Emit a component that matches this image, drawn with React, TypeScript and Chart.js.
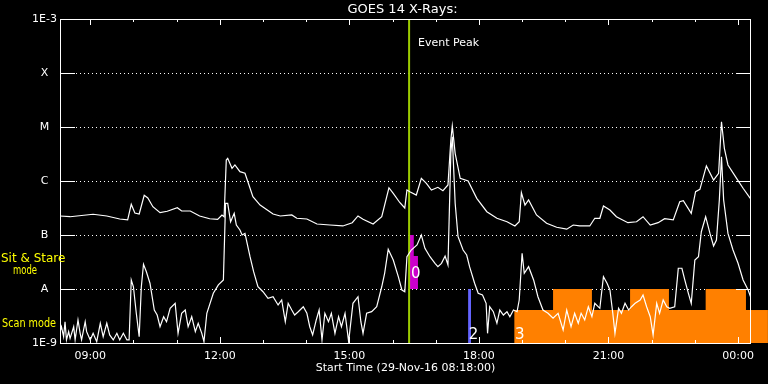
import React, { useEffect, useRef } from 'react';
import { Chart, registerables } from 'chart.js';

Chart.register(...registerables);

const FONT = 'DejaVu Sans';

// x axis: minutes after start time 29-Nov-16 08:18:00 (16 h span)
const xMin = 0;
const xMax = 960;
const xLabelTimes = [42, 222, 402, 582, 762, 942];
const xLabels = ['09:00', '12:00', '15:00', '18:00', '21:00', '00:00'];
const hourTicks = [42, 102, 162, 222, 282, 342, 402, 462, 522, 582, 642, 702, 762, 822, 882, 942];

// y axis: flux (W/m^2), log
const yTickValues = [1e-9, 1e-8, 1e-7, 1e-6, 1e-5, 1e-4, 1e-3];
const yTickLabels = ['1E-9', 'A', 'B', 'C', 'M', 'X', '1E-3'];
const gridValues = [1e-8, 1e-7, 1e-6, 1e-5, 1e-4];

const titleText = 'GOES 14 X-Rays:';
const xTitleText = 'Start Time (29-Nov-16 08:18:00)';
const eventPeakText = 'Event Peak';
const eventPeakTime = 485;

// long channel (1-8 A)
const longTimes = [
  0, 14, 46, 65, 83, 94, 99, 104, 110, 117,
  122, 129, 139, 149, 163, 169, 181, 194, 208, 219,
  225, 228, 231, 233, 239, 243, 250, 257, 261, 268,
  278, 288, 296, 306, 322, 329, 343, 357, 375, 393,
  406, 414, 421, 435, 447, 457, 463, 472, 479, 482,
  486, 495, 502, 509, 516, 525, 532, 539, 543, 545,
  549, 556, 567, 579, 593, 607, 621, 632, 638, 641,
  646, 651, 662, 676, 690, 704, 713, 722, 736, 743,
  750, 755, 764, 773, 789, 801, 810, 820, 831, 840,
  852, 861, 866, 877, 883, 889, 898, 908, 915, 919,
  923, 928, 940, 949, 959,
];
const longFlux = [
  2.25e-7, 2.18e-7, 2.42e-7, 2.25e-7, 1.98e-7, 1.9e-7, 3.7e-7, 2.55e-7, 2.45e-7, 5.43e-7,
  4.84e-7, 3.34e-7, 2.59e-7, 2.75e-7, 3.2e-7, 2.78e-7, 2.78e-7, 2.25e-7, 2.0e-7, 1.95e-7,
  2.35e-7, 2.18e-7, 2.45e-6, 2.63e-6, 1.72e-6, 1.98e-6, 1.49e-6, 1.39e-6, 9.7e-7, 5.12e-7,
  3.59e-7, 2.9e-7, 2.45e-7, 2.25e-7, 2.35e-7, 2.04e-7, 1.98e-7, 1.6e-7, 1.53e-7, 1.47e-7,
  1.69e-7, 2.25e-7, 1.95e-7, 1.6e-7, 2.18e-7, 7.5e-7, 5.92e-7, 4.0e-7, 3.16e-7, 6.81e-7,
  6.34e-7, 5.5e-7, 1.12e-6, 9.06e-7, 6.81e-7, 7.64e-7, 6.61e-7, 8.43e-7, 5.74e-6, 1.04e-5,
  3.26e-6, 1.12e-6, 1.0e-6, 4.78e-7, 2.7e-7, 2.04e-7, 1.76e-7, 1.47e-7, 1.76e-7, 6.07e-7,
  3.59e-7, 4.45e-7, 2.35e-7, 1.65e-7, 1.39e-7, 1.28e-7, 1.53e-7, 1.47e-7, 1.47e-7, 2.04e-7,
  2.04e-7, 3.44e-7, 2.9e-7, 2.18e-7, 1.69e-7, 1.76e-7, 2.18e-7, 1.53e-7, 1.69e-7, 2.0e-7,
  1.9e-7, 4.14e-7, 4.32e-7, 2.52e-7, 6.34e-7, 7.02e-7, 1.9e-6, 1.04e-6, 1.39e-6, 1.25e-5,
  4.03e-6, 1.98e-6, 1.12e-6, 7.33e-7, 4.78e-7,
];

// short channel (0.5-4 A)
const shortTimes = [
  0, 2, 5, 7, 9, 12, 14, 19, 21, 25,
  28, 30, 35, 37, 42, 46, 51, 56, 60, 65,
  69, 74, 79, 83, 88, 93, 96, 99, 102, 106,
  110, 113, 116, 120, 125, 131, 135, 139, 144, 148,
  153, 160, 164, 169, 174, 178, 183, 188, 192, 197,
  200, 204, 213, 220, 227, 230, 233, 237, 242, 245,
  250, 253, 257, 264, 269, 275, 282, 289, 296, 303,
  308, 313, 317, 322, 326, 331, 338, 343, 347, 351,
  356, 360, 364, 368, 373, 377, 382, 387, 391, 396,
  401, 407, 414, 418, 421, 426, 433, 440, 447, 451,
  456, 463, 470, 475, 479, 482, 488, 496, 502, 507,
  514, 521, 525, 530, 535, 539, 543, 545, 549, 553,
  560, 565, 569, 576, 581, 587, 592, 594, 597, 602,
  607, 611, 616, 621, 625, 630, 635, 638, 642, 645,
  651, 658, 664, 671, 678, 685, 692, 699, 704, 710,
  715, 720, 724, 729, 734, 739, 743, 750, 755, 760,
  764, 768, 771, 776, 780, 785, 790, 794, 799, 806,
  810, 815, 820, 824, 829, 833, 838, 843, 847, 854,
  859, 864, 868, 873, 877, 882, 887, 891, 897, 903,
  908, 912, 916, 919, 922, 928, 935, 942, 949, 956,
  960,
];
const shortFlux = [
  1.62e-9, 2.0e-9, 1.31e-9, 2.48e-9, 1.14e-9, 1.62e-9, 1.22e-9, 2.0e-9, 1.14e-9, 2.67e-9,
  1.51e-9, 1.14e-9, 2.48e-9, 1.62e-9, 1.14e-9, 1.51e-9, 1.06e-9, 2.32e-9, 1.31e-9, 2.32e-9,
  1.41e-9, 1.14e-9, 1.51e-9, 1.14e-9, 1.51e-9, 1.14e-9, 1.14e-9, 1.47e-8, 1.1e-8, 3.55e-9,
  1.31e-9, 1.1e-8, 2.87e-8, 2.09e-8, 1.28e-8, 4.08e-9, 3.3e-9, 2.0e-9, 3.07e-9, 2.48e-9,
  4.39e-9, 5.43e-9, 1.51e-9, 3.55e-9, 4.08e-9, 2.0e-9, 3.07e-9, 1.62e-9, 2.32e-9, 1.51e-9,
  1.06e-9, 3.55e-9, 8.32e-9, 1.19e-8, 1.47e-8, 3.86e-7, 3.86e-7, 1.76e-7, 2.52e-7, 1.53e-7,
  1.24e-7, 1.0e-7, 1.07e-7, 3.96e-8, 2.09e-8, 1.1e-8, 8.91e-9, 6.73e-9, 7.2e-9, 5.06e-9,
  6.26e-9, 2.48e-9, 5.43e-9, 4.08e-9, 3.3e-9, 3.8e-9, 4.7e-9, 3.55e-9, 2.0e-9, 1.41e-9,
  2.67e-9, 4.08e-9, 1.14e-9, 3.55e-9, 2.48e-9, 3.55e-9, 1.51e-9, 3.07e-9, 2.0e-9, 3.55e-9,
  1.06e-9, 5.43e-9, 7.2e-9, 2.48e-9, 1.51e-9, 3.55e-9, 3.8e-9, 4.7e-9, 1.1e-8, 1.95e-8,
  5.43e-8, 3.44e-8, 1.69e-8, 9.58e-9, 8.91e-9, 3.96e-8, 5.27e-8, 6.53e-8, 1.0e-7, 5.67e-8,
  3.96e-8, 2.99e-8, 2.59e-8, 2.99e-8, 4.08e-8, 2.78e-8, 3.26e-6, 6.61e-6, 3.86e-7, 9.3e-8,
  5.27e-8, 4.26e-8, 2.59e-8, 1.28e-8, 8.32e-9, 7.74e-9, 5.43e-9, 1.51e-9, 4.7e-9, 3.8e-9,
  2.32e-9, 4.08e-9, 3.3e-9, 3.8e-9, 3.07e-9, 4.08e-9, 3.8e-9, 6.26e-9, 4.58e-8, 1.95e-8,
  2.59e-8, 1.47e-8, 7.2e-9, 4.08e-9, 3.55e-9, 2.87e-9, 3.55e-9, 1.74e-9, 4.08e-9, 2.0e-9,
  3.55e-9, 2.32e-9, 3.55e-9, 2.67e-9, 4.7e-9, 3.07e-9, 5.43e-9, 4.39e-9, 1.69e-8, 1.28e-8,
  9.58e-9, 3.55e-9, 1.51e-9, 4.39e-9, 3.55e-9, 5.43e-9, 4.08e-9, 4.7e-9, 5.43e-9, 6.26e-9,
  7.74e-9, 4.7e-9, 3.07e-9, 1.41e-9, 5.43e-9, 3.55e-9, 6.26e-9, 4.7e-9, 4.39e-9, 4.7e-9,
  2.42e-8, 2.42e-8, 1.47e-8, 8.32e-9, 5.43e-9, 3.44e-8, 3.96e-8, 1.15e-7, 2.18e-7, 1.07e-7,
  6.25e-8, 8.07e-8, 4.45e-7, 2.82e-6, 4.45e-7, 1.07e-7, 5.27e-8, 2.99e-8, 1.47e-8, 9.58e-9,
  6.81e-9,
];

// observing-mode blocks
const sitStareTimes = [485, 491.5, 497.3];
const sitStareFlux = [1e-7, 4.08e-8, 4.08e-8];
const sitStareBase = 1e-8;
const mode2Times = [567, 571];
const mode2Flux = [1e-8, 1e-8];
const scanTimes = [631, 685, 739, 792, 846, 897, 953, 983.5];
const scanFlux = [4.08e-9, 1e-8, 4.08e-9, 1e-8, 4.08e-9, 1e-8, 4.08e-9, 4.08e-9];

const modeLabelText = ['0', '2', '3'];
const modeLabelTimes = [487.5, 568, 632];
const modeLabelFlux = [1.6e-8, 1.2e-9, 1.2e-9];

const pts = (t: number[], v: number[]) => t.map((x, i) => ({ x, y: v[i] }));

const framePlugin = {
  id: 'frame',
  beforeDatasetsDraw(chart: any) {
    const { ctx, chartArea: a } = chart;
    const y = chart.scales.y;
    ctx.save();
    ctx.strokeStyle = '#ffffff';
    ctx.lineWidth = 1;
    ctx.setLineDash([1, 3]);
    gridValues.forEach((v) => {
      const py = Math.round(y.getPixelForValue(v)) + 0.5;
      ctx.beginPath();
      ctx.moveTo(a.left, py);
      ctx.lineTo(a.right, py);
      ctx.stroke();
    });
    ctx.restore();
  },
  afterDatasetsDraw(chart: any) {
    const { ctx, chartArea: a } = chart;
    const x = chart.scales.x;
    const y = chart.scales.y;
    ctx.save();
    // scan-mode block continues past the right axis
    const meta = chart.getDatasetMeta(5);
    const els = meta.data;
    ctx.fillStyle = '#ff8000';
    for (let i = 1; i < els.length; i++) {
      const p0 = els[i - 1];
      const p1 = els[i];
      if (p1.x > a.right) {
        const left = Math.max(p0.x, a.right);
        ctx.fillRect(left, p0.y, p1.x - left, y.bottom - p0.y);
      }
    }
    // frame
    ctx.strokeStyle = '#ffffff';
    ctx.lineWidth = 1;
    ctx.setLineDash([]);
    ctx.strokeRect(a.left + 0.5, a.top + 0.5, a.right - a.left - 1, a.bottom - a.top);
    // hourly ticks (inward)
    hourTicks.forEach((t) => {
      const px = Math.round(x.getPixelForValue(t)) + 0.5;
      const len = xLabelTimes.includes(t) ? 6 : 3;
      ctx.beginPath();
      ctx.moveTo(px, a.bottom);
      ctx.lineTo(px, a.bottom - len);
      ctx.moveTo(px, a.top);
      ctx.lineTo(px, a.top + len);
      ctx.stroke();
    });
    // class ticks (inward)
    gridValues.forEach((v) => {
      const py = Math.round(y.getPixelForValue(v)) + 0.5;
      ctx.beginPath();
      ctx.moveTo(a.left, py);
      ctx.lineTo(a.left + 15, py);
      ctx.moveTo(a.right - 15, py);
      ctx.lineTo(a.right, py);
      ctx.stroke();
    });
    ctx.restore();
  },
  afterDraw(chart: any) {
    const { ctx, chartArea: a } = chart;
    const x = chart.scales.x;
    const y = chart.scales.y;
    ctx.save();
    ctx.textBaseline = 'middle';
    ctx.fillStyle = '#ffffff';
    ctx.textAlign = 'center';
    ctx.font = `13px "${FONT}"`;
    ctx.fillText(titleText, (a.left + a.right) / 2 - 3, 10);
    ctx.font = `11px "${FONT}"`;
    ctx.fillText(xTitleText, (a.left + a.right) / 2, 368);
    ctx.textAlign = 'left';
    ctx.fillText(eventPeakText, x.getPixelForValue(eventPeakTime) + 9, 43);
    ctx.fillStyle = '#ffff00';
    ctx.font = `12px "${FONT}"`;
    ctx.fillText('Sit & Stare', 1, 259, 66);
    ctx.fillText('mode', 13, 271, 24);
    ctx.fillText('Scan mode', 2, 324, 54);
    ctx.fillStyle = '#ffffff';
    ctx.font = `15px "${FONT}"`;
    ctx.textBaseline = 'alphabetic';
    modeLabelText.forEach((s, i) => {
      ctx.fillText(s, x.getPixelForValue(modeLabelTimes[i]), y.getPixelForValue(modeLabelFlux[i]));
    });
    ctx.restore();
  },
};

export default function App() {
  const ref = useRef<HTMLCanvasElement>(null);
  useEffect(() => {
    document.body.style.margin = '0';
    document.body.style.background = '#000';
    const chart = new Chart(ref.current as HTMLCanvasElement, {
      type: 'line',
      data: {
        datasets: [
          {
            label: 'long',
            data: pts(longTimes, longFlux),
            borderColor: '#ffffff',
            borderWidth: 1.2,
            pointRadius: 0,
            fill: false,
            order: 0,
          },
          {
            label: 'short',
            data: pts(shortTimes, shortFlux),
            borderColor: '#ffffff',
            borderWidth: 1.2,
            pointRadius: 0,
            fill: false,
            order: 0,
          },
          {
            label: 'event',
            data: pts([eventPeakTime, eventPeakTime], [1e-9, 1e-3]),
            borderColor: '#9ccc00',
            borderWidth: 2,
            pointRadius: 0,
            fill: false,
            order: 1,
          },
          {
            label: 'sitstare',
            data: pts(sitStareTimes, sitStareFlux),
            stepped: 'before',
            borderWidth: 0,
            borderColor: 'rgba(0,0,0,0)',
            backgroundColor: '#cc00cc',
            pointRadius: 0,
            fill: { value: sitStareBase },
            order: 2,
          },
          {
            label: 'mode2',
            data: pts(mode2Times, mode2Flux),
            stepped: 'before',
            borderWidth: 0,
            borderColor: 'rgba(0,0,0,0)',
            backgroundColor: '#6464ff',
            pointRadius: 0,
            fill: 'start',
            order: 2,
          },
          {
            label: 'scan',
            data: pts(scanTimes, scanFlux),
            stepped: 'before',
            borderWidth: 0,
            borderColor: 'rgba(0,0,0,0)',
            backgroundColor: '#ff8000',
            pointRadius: 0,
            fill: 'start',
            clip: false,
            order: 3,
          },
        ],
      } as any,
      options: {
        responsive: false,
        animation: false,
        devicePixelRatio: 1,
        events: [],
        layout: { padding: { top: 19, right: 17, left: 0, bottom: 0 } },
        plugins: {
          legend: { display: false },
          tooltip: { enabled: false },
          title: { display: false },
        },
        scales: {
          x: {
            type: 'linear',
            min: xMin,
            max: xMax,
            grid: { display: false, drawTicks: false },
            border: { display: false },
            afterBuildTicks: (s: any) => {
              s.ticks = xLabelTimes.map((v) => ({ value: v }));
            },
            afterFit: (s: any) => {
              s.height = 41;
            },
            ticks: {
              autoSkip: false,
              maxRotation: 0,
              color: '#ffffff',
              padding: 7,
              font: { family: FONT, size: 11 },
              callback: (_v: any, i: number) => xLabels[i],
            },
          },
          y: {
            type: 'logarithmic',
            min: 1e-9,
            max: 1e-3,
            grid: { display: false, drawTicks: false },
            border: { display: false },
            afterBuildTicks: (s: any) => {
              s.ticks = yTickValues.map((v) => ({ value: v }));
            },
            afterFit: (s: any) => {
              s.width = 60;
            },
            ticks: {
              autoSkip: false,
              crossAlign: 'center',
              padding: 3,
              color: '#ffffff',
              font: { family: FONT, size: 11 },
              callback: (_v: any, i: number) => yTickLabels[i],
            },
          },
        },
      } as any,
      plugins: [framePlugin],
    });
    return () => chart.destroy();
  }, []);
  return (
    <div style={{ position: 'absolute', left: 0, top: 0, width: 768, height: 384, background: '#000' }}>
      <canvas ref={ref} width={768} height={384} style={{ display: 'block', width: 768, height: 384 }} />
    </div>
  );
}
